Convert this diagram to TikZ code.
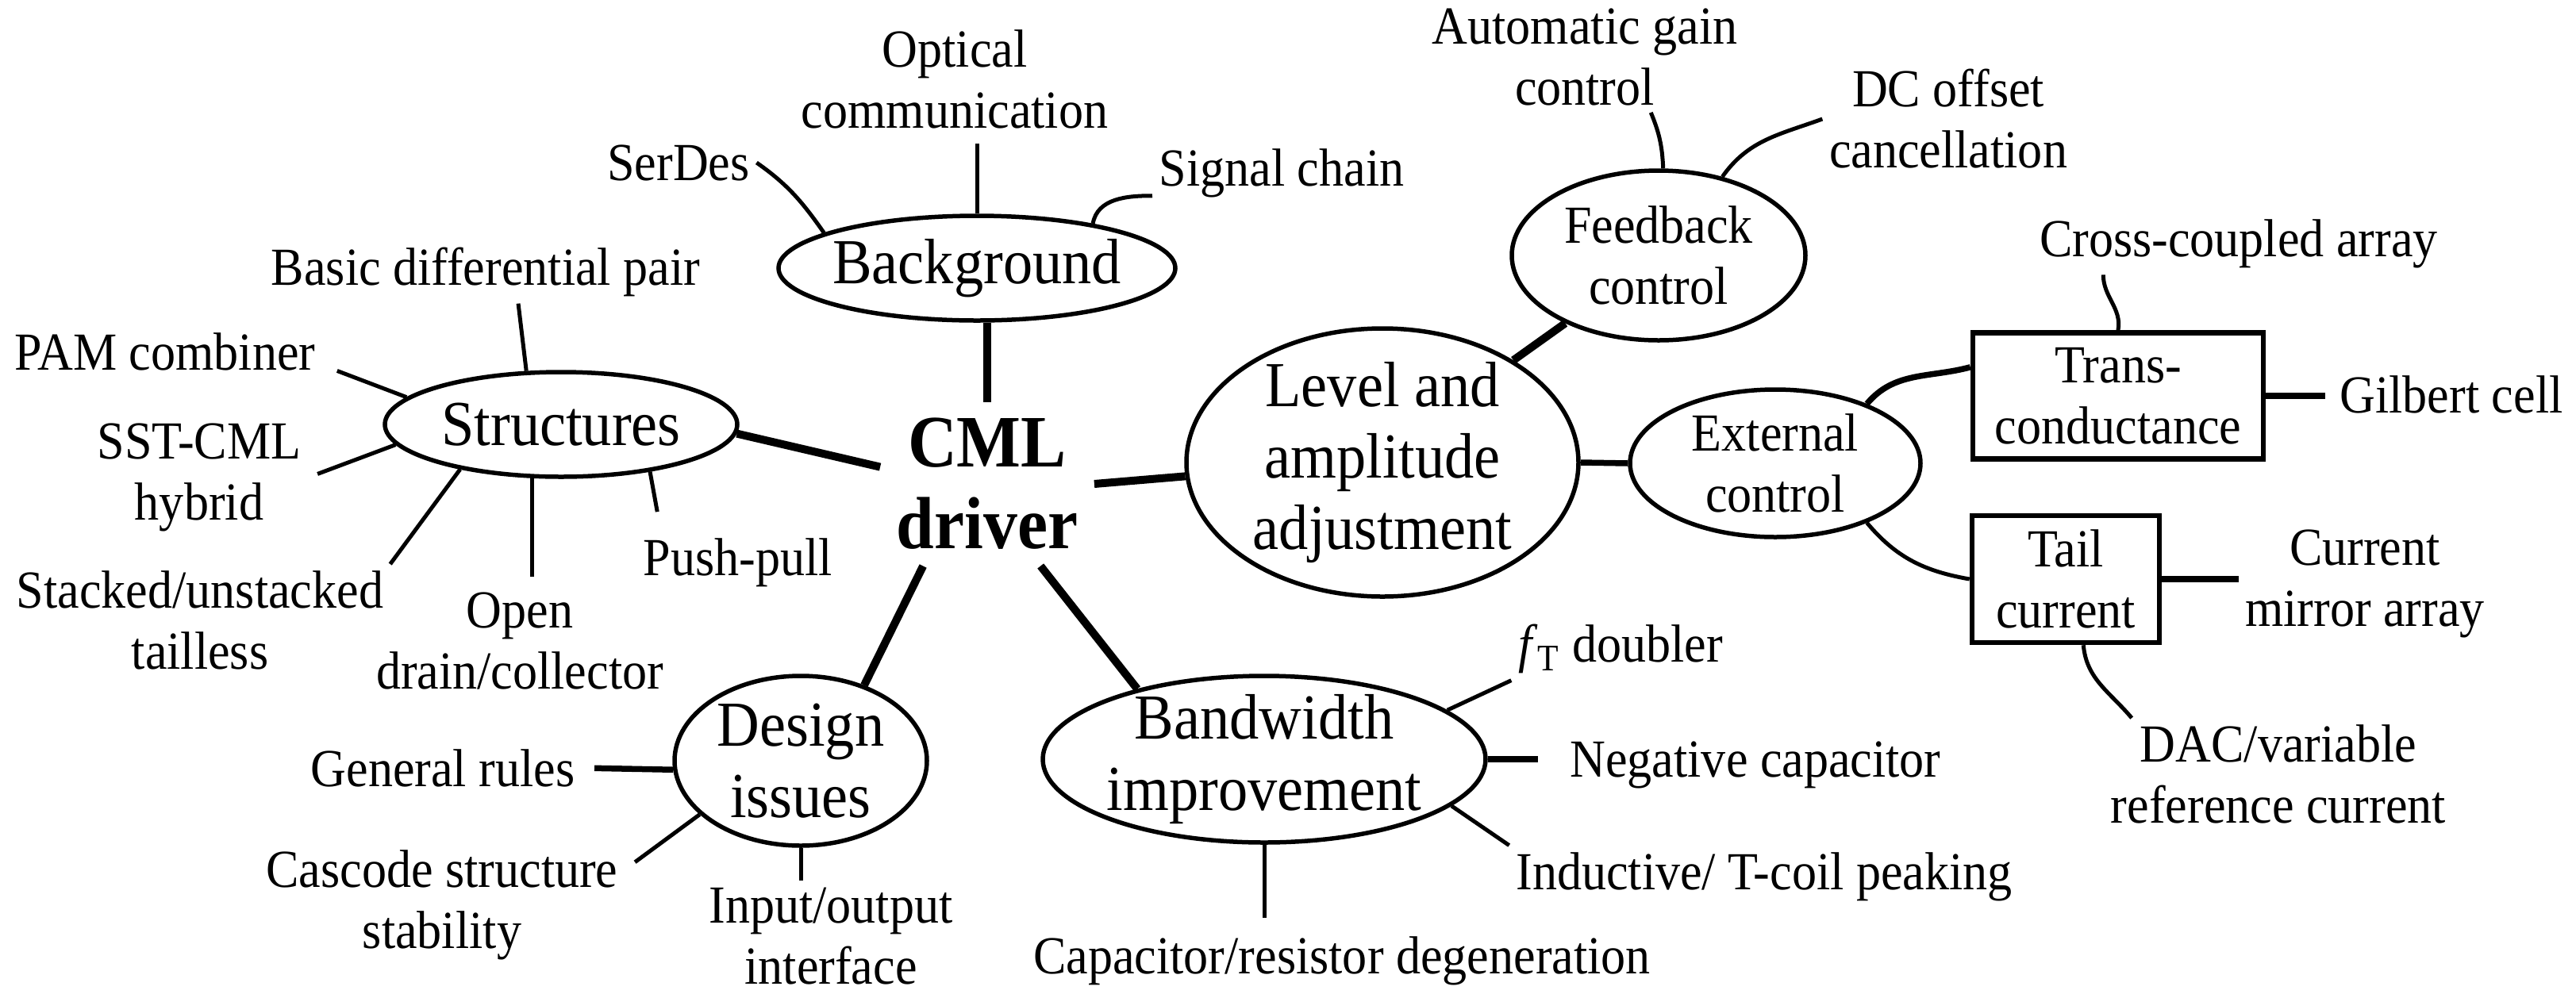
\documentclass[tikz,border=0pt]{standalone}
\usepackage{fontspec}
\setmainfont{Liberation Serif}[FakeStretch=0.92]
\usepackage{tikz}
\usetikzlibrary{shapes.geometric}

\newcommand{\leafsize}{\fontsize{19.2}{21.9}\selectfont}
\newcommand{\topicsize}{\fontsize{23}{25.6}\selectfont}
\newcommand{\hubsize}{\bfseries\fontsize{26.5}{29.3}\selectfont}

\tikzset{
    leaf/.style={align=center, inner sep=0.08cm, font=\leafsize},
    topic/.style={draw, ellipse, line width=0.055cm, align=center, inner sep=-4mm, font=\topicsize},
    subtopic/.style={topic, font=\leafsize},
    block/.style={draw, rectangle, line width=0.065cm, align=center, inner sep=0pt, font=\leafsize},
    branch/.style={line width=0.05cm},
    limb/.style={line width=0.075cm},
    trunk/.style={line width=0.1cm},
}

\begin{document}
\begin{tikzpicture}
\useasboundingbox (0,0) rectangle (32.46,-12.52);

% Hub
\node[font=\hubsize, align=center, inner sep=0.2cm] (cml) at (12.44,-6.10) {CML\\driver};

% Background
\node[topic, minimum width=5.00cm, minimum height=1.32cm] (bg) at (12.31,-3.38) {Background};
\node[leaf] (serdes) at (8.55,-2.05) {SerDes};
\node[leaf] (optical) at (12.03,-1.00) {Optical\\communication};
\node[leaf] (signal) at (16.15,-2.18) {Signal chain};

% Structures
\node[topic, minimum width=4.44cm, minimum height=1.32cm] (struct) at (7.07,-5.35) {Structures};
\node[leaf] (basic) at (6.12,-3.43) {Basic differential pair};
\node[leaf] (pam) at (2.08,-4.43) {PAM combiner};
\node[leaf] (sst) at (2.51,-6.02) {SST-CML\\hybrid};
\node[leaf] (stacked) at (2.52,-7.82) {Stacked/unstacked\\tailless};
\node[leaf] (opendrain) at (6.55,-8.08) {Open\\drain/collector};
\node[leaf] (pushpull) at (9.30,-7.09) {Push-pull};

% Design issues
\node[topic, minimum width=3.18cm, minimum height=2.14cm] (design) at (10.09,-9.59) {Design\\issues};
\node[leaf] (rules) at (5.58,-9.68) {General rules};
\node[leaf] (cascode) at (5.57,-11.41) {Cascode structure\\stability};
\node[leaf] (io) at (10.47,-11.80) {Input/output\\interface};

% Bandwidth improvement
\node[topic, minimum width=5.58cm, minimum height=2.10cm] (bw) at (15.93,-9.57) {Bandwidth\\improvement};
\node[leaf] (degen) at (16.91,-12.11) {Capacitor/resistor degeneration};
\node[leaf] (ft) at (20.42,-8.18) {\textit{f}\textsubscript{T} doubler};
\node[leaf] (negcap) at (22.12,-9.64) {Negative capacitor};
\node[leaf] (tcoil) at (22.23,-11.05) {Inductive/ T-coil peaking};

% Level and amplitude adjustment
\node[topic, minimum width=4.94cm, minimum height=3.38cm] (level) at (17.42,-5.83) {Level and\\amplitude\\adjustment};
\node[subtopic, minimum width=3.70cm, minimum height=2.14cm] (feedback) at (20.90,-3.22) {Feedback\\control};
\node[leaf] (agc) at (19.97,-0.72) {Automatic gain\\control};
\node[leaf] (dcoc) at (24.55,-1.50) {DC offset\\cancellation};
\node[subtopic, minimum width=3.66cm, minimum height=1.86cm] (external) at (22.37,-5.84) {External\\control};
\node[block, minimum width=3.66cm, minimum height=1.59cm] (gm) at (26.69,-4.99) {Trans-\\conductance};
\node[leaf] (cross) at (28.21,-3.07) {Cross-coupled array};
\node[leaf] (gilbert) at (30.89,-4.97) {Gilbert cell};
\node[block, minimum width=2.36cm, minimum height=1.60cm] (tail) at (26.03,-7.30) {Tail\\current};
\node[leaf] (mirror) at (29.80,-7.36) {Current\\mirror array};
\node[leaf] (dac) at (28.71,-9.76) {DAC/variable\\reference current};

% Background links
\draw[trunk] (cml.north |- bg.south) -- (cml.north);
\draw[branch] (bg.167) to[out=125,in=-35] (serdes.east);
\draw[branch, shorten >=0.1cm] (bg.north) -- (bg.north |- optical.south);
\draw[branch] (bg.21) to[out=80,in=180] (signal.190);

% Structures links
\draw[trunk] (struct.-3) -- (cml.171);
\draw[branch] (struct.123) -- (basic.-44);
\draw[branch, shorten >=0.2cm] (struct.170) -- (pam.-5);
\draw[branch, shorten >=0.13cm] (struct.187) -- (sst.east);
\draw[branch] (struct.204) -- (stacked.north east);
\draw[branch, shorten >=0.11cm] (struct.242) -- (struct.242 |- opendrain.north);
\draw[branch, shorten >=0.25cm] (struct.-28) -- (pushpull.158);

% Design links
\draw[trunk] (cml.232) -- (design.50);
\draw[limb, shorten >=0.16cm] (design.184) -- (rules.east);
\draw[branch, shorten >=0.16cm] (design.208) -- (cascode.11);
\draw[branch] (design.south) -- (design.south |- io.north);

% Bandwidth links
\draw[trunk] (cml.-57) -- (bw.151);
\draw[branch] (bw.15) -- (ft.south west);
\draw[limb, shorten >=0.32cm] (bw.east) -- (bw.east -| negcap.west);
\draw[branch] (bw.-14) -- (tcoil.north west);
\draw[branch, shorten >=0.15cm] (bw.south) -- (bw.south |- degen.north);

% Level links
\draw[trunk] (cml.east) -- (level.184);
\draw[trunk] (level.38) -- (feedback.216);
\draw[branch] (feedback.87) to[bend right=10] (agc.-40);
\draw[branch] (feedback.51) to[out=55,in=200] (dcoc.west);
\draw[limb] (level.east) -- (external.west);
\draw[limb] (external.33) to[out=50,in=195] (gm.169);
\draw[branch] (gm.north) to[out=80,in=-90] (cross.193);
\draw[limb, shorten >=0.1cm] (gm.east) -- (gm.east -| gilbert.west);
\draw[branch] (external.-33) to[out=-50,in=170] (tail.west);
\draw[limb] (tail.east) -- (tail.east -| mirror.west);
\draw[branch] (tail.-75) to[out=-85,in=130] (dac.159);

\end{tikzpicture}
\end{document}
